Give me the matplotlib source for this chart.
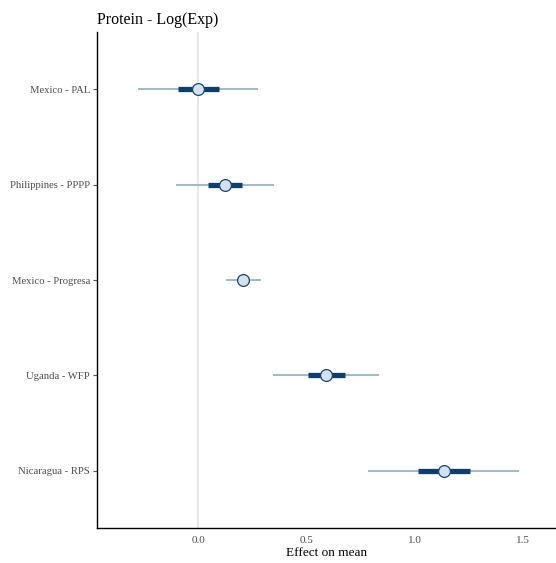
import matplotlib.pyplot as plt
import numpy as np

# study labels, top to bottom
studies = ['Mexico - PAL', 'Philippines - PPPP', 'Mexico - Progresa', 'Uganda - WFP', 'Nicaragua - RPS']
mean = [0.001, 0.125, 0.209, 0.591, 1.137]
lo_inner = [-0.094, 0.048, 0.185, 0.508, 1.017]
hi_inner = [0.097, 0.202, 0.235, 0.677, 1.257]
lo_outer = [-0.279, -0.102, 0.128, 0.348, 0.785]
hi_outer = [0.278, 0.349, 0.291, 0.837, 1.481]

plt.rcParams['font.family'] = ['Liberation Serif', 'DejaVu Serif']

fig = plt.figure(figsize=(5.56, 5.63), dpi=100)
ax = fig.add_axes([0.1745, 0.0622, 0.8255, 0.8808])

ypos = np.arange(len(studies))[::-1] + 1

ax.axvline(0, color='#e3e3e3', lw=1.2, zorder=0)
ax.hlines(ypos, lo_outer, hi_outer, color='#93b4c6', lw=1.3, zorder=1)
ax.hlines(ypos, lo_inner, hi_inner, color='#0b3f74', lw=3.8, zorder=2)
ax.plot(mean, ypos, 'o', ms=8.5, mfc='#d3e2ee', mec='#1b4674', mew=0.9, zorder=3)

ax.set_xlim(-0.466, 1.652)
ax.set_ylim(0.4, 5.6)
ax.set_yticks(ypos)
ax.set_yticklabels(studies)
ax.set_xticks([0.0, 0.5, 1.0, 1.5])
ax.set_xticklabels(['0.0', '0.5', '1.0', '1.5'])

ax.tick_params(axis='y', length=3, color='#555555', labelsize=7.7, labelcolor='#4d4d4d', pad=2)
ax.tick_params(axis='x', length=0, labelsize=8, labelcolor='#4d4d4d', pad=6)

for s in ['top', 'right']:
    ax.spines[s].set_visible(False)
for s in ['left', 'bottom']:
    ax.spines[s].set_linewidth(1.0)

ax.set_xlabel('Effect on mean', fontsize=9.5, labelpad=1)
ax.set_title('Protein - Log(Exp)', fontsize=11.5, loc='left', pad=6)

plt.savefig('out.png', dpi=100)
